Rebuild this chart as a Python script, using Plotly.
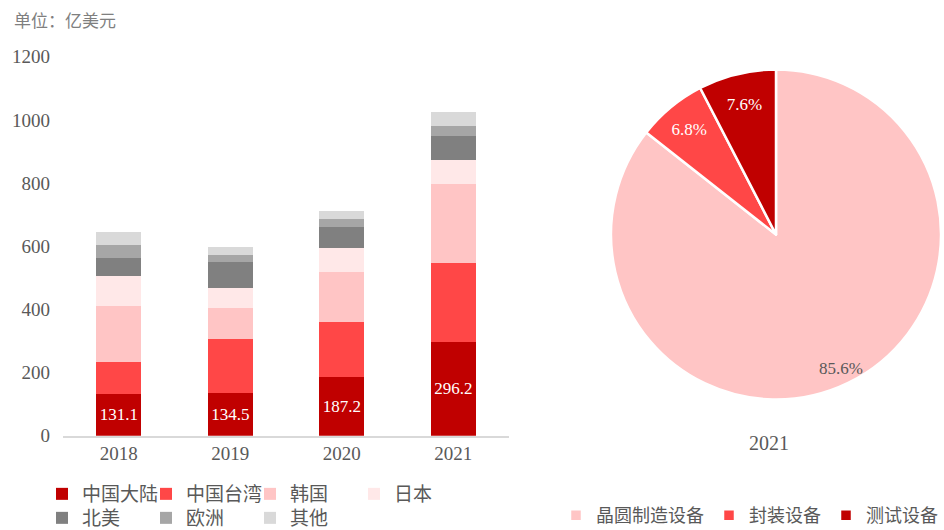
import math
import plotly.graph_objects as go

years = ["2018", "2019", "2020", "2021"]
regions = ["中国大陆", "中国台湾", "韩国", "日本", "北美", "欧洲", "其他"]
mainland = [131.1, 134.5, 187.2, 296.2]
taiwan = [101.7, 171.2, 171.5, 249.4]
korea = [177.1, 99.7, 160.8, 249.8]
japan = [94.7, 62.6, 75.8, 78.0]
north_america = [58.3, 81.5, 65.3, 76.1]
europe = [42.2, 22.7, 26.4, 32.5]
others = [40.7, 25.6, 24.9, 43.7]
series = [mainland, taiwan, korea, japan, north_america, europe, others]
colors = ["#C00000", "#FF4747", "#FFC5C5", "#FFE8E8", "#808080", "#A6A6A6", "#D9D9D9"]

pie_labels = ["晶圆制造设备", "封装设备", "测试设备"]
pie_values = [85.6, 6.8, 7.6]
pie_colors = ["#FFC5C5", "#FF4747", "#C00000"]

yticks = [0, 200, 400, 600, 800, 1000, 1200]

W, H = 944, 530
FONT = "Liberation Serif, Noto Sans CJK SC, serif"
GRAY = "#595959"


def px(x):
    return x / W


def py(y):
    return 1 - y / H


fig = go.Figure()
for i, (name, vals, col) in enumerate(zip(regions, series, colors)):
    kw = {}
    if name == "中国大陆":
        kw = dict(text=[f"{v:.1f}" for v in vals], textposition="inside",
                  insidetextanchor="middle", textangle=0,
                  textfont=dict(color="white", size=17, family=FONT))
    fig.add_trace(go.Bar(x=years, y=vals, name=name, marker_color=col,
                         marker_line_width=0,
                         legend="legend" if i < 4 else "legend3", **kw))

# pie geometry (domain in pixels)
pie_x0, pie_x1 = 611, 941
pie_y0, pie_y1 = 69.5, 399.5
big = max(range(len(pie_values)), key=lambda k: pie_values[k])
templates = ["" if k == big else "%{value:.1f}%" for k in range(len(pie_values))]

fig.add_trace(go.Pie(labels=pie_labels, values=pie_values, sort=False,
                     direction="clockwise", rotation=0,
                     marker=dict(colors=pie_colors, line=dict(color="white", width=2.5)),
                     texttemplate=templates, textposition="inside",
                     insidetextorientation="horizontal",
                     textfont=dict(color="white", size=17, family=FONT),
                     domain=dict(x=[px(pie_x0), px(pie_x1)], y=[py(pie_y1), py(pie_y0)]),
                     legend="legend2", hoverinfo="label+percent"))

# label of the large slice, placed along its mid-angle
total = sum(pie_values)
cum = sum(pie_values[:big])
mid = (cum + pie_values[big] / 2) / total * 2 * math.pi
cx, cy = (pie_x0 + pie_x1) / 2, (pie_y0 + pie_y1) / 2
r = (pie_x1 - pie_x0) / 2
lx = cx + 0.9 * r * math.sin(mid)
ly = cy - 0.9 * r * math.cos(mid)

leg_font = dict(size=19, color=GRAY, family=FONT)
fig.update_layout(
    width=W, height=H, margin=dict(l=0, r=0, t=0, b=0, autoexpand=False),
    paper_bgcolor="white", plot_bgcolor="white",
    barmode="stack", bargap=0.596,
    font=dict(family=FONT, color=GRAY, size=19),
    xaxis=dict(domain=[px(63), px(509)], showgrid=False, showline=True,
               linecolor="#D9D9D9", linewidth=1.5, ticks="",
               tickfont=dict(size=19, color=GRAY, family=FONT)),
    yaxis=dict(domain=[py(435.7), py(56.7)], range=[0, 1200], tickvals=yticks,
               showgrid=False, showline=False, zeroline=False, ticks="",
               ticklabelstandoff=12,
               tickfont=dict(size=19, color=GRAY, family=FONT)),
    legend=dict(orientation="h", x=px(42), xanchor="left", y=py(475), yanchor="top",
                entrywidth=59, itemwidth=30, font=leg_font,
                traceorder="normal", bgcolor="rgba(0,0,0,0)"),
    legend3=dict(orientation="h", x=px(42), xanchor="left", y=py(499), yanchor="top",
                 entrywidth=59, itemwidth=30, font=leg_font,
                 traceorder="normal", bgcolor="rgba(0,0,0,0)"),
    legend2=dict(orientation="h", x=px(556), xanchor="left", y=py(497), yanchor="top",
                 itemwidth=30, font=dict(size=18, color=GRAY, family=FONT),
                 bgcolor="rgba(0,0,0,0)"),
    annotations=[
        dict(text="单位：亿美元", x=px(12), y=py(22), xref="paper", yref="paper",
             xanchor="left", yanchor="middle", showarrow=False,
             font=dict(size=17, color="#7F7F7F", family=FONT)),
        dict(text="2021", x=px(769), y=py(443), xref="paper", yref="paper",
             xanchor="center", yanchor="middle", showarrow=False,
             font=dict(size=20, color=GRAY, family=FONT)),
        dict(text=f"{pie_values[big]:.1f}%", x=px(lx), y=py(ly), xref="paper", yref="paper",
             xanchor="center", yanchor="middle", showarrow=False,
             font=dict(size=17, color=GRAY, family=FONT)),
    ],
)

fig.write_html("out.html", config={"displayModeBar": False},
               post_script="document.body.style.margin='0px';document.body.style.overflow='hidden';")
